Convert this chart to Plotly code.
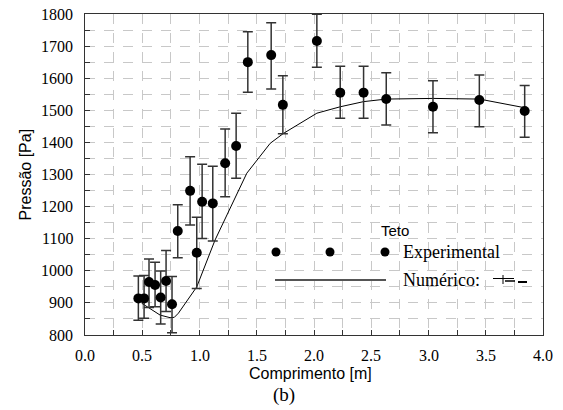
import plotly.graph_objects as go

# Experimental data (Teto)
x_exp = [0.466, 0.516, 0.559, 0.612, 0.661, 0.708, 0.760, 0.810, 0.918, 0.976, 1.023, 1.116,
         1.224, 1.320, 1.422, 1.626, 1.728, 2.025, 2.229, 2.433, 2.631, 3.039, 3.444, 3.840]
y_exp = [914, 914, 965, 956, 917, 968, 896, 1124, 1249, 1056, 1215, 1210,
         1335, 1389, 1650, 1672, 1517, 1716, 1555, 1555, 1535, 1511, 1532, 1498]
y_upper = [984, 985, 1037, 1027, 999, 1063, 982, 1206, 1355, 1167, 1332, 1326,
           1442, 1491, 1745, 1773, 1608, 1799, 1637, 1637, 1617, 1592, 1610, 1577]
y_lower = [846, 852, 886, 888, 834, 873, 807, 1041, 1143, 945, 1101, 1093,
           1231, 1288, 1556, 1566, 1427, 1634, 1475, 1475, 1454, 1430, 1449, 1416]

# Numerical curve
x_num = [0.495, 0.656, 0.743, 0.780, 0.816, 0.976, 1.136, 1.268, 1.413, 1.617, 1.733,
         2.025, 2.229, 2.433, 2.631, 3.039, 3.444, 3.840]
y_num = [899, 862, 854, 855, 868, 950, 1096, 1195, 1304, 1397, 1428,
         1491, 1511, 1527, 1535, 1537, 1535, 1508]

# Labelled ticks
x_label_vals = [0.0, 0.5, 1.0, 1.5, 2.0, 2.5, 3.0, 3.5, 4.0]
x_label_text = ["0.0", "0.5", "1.0", "1.5", "2.0", "2.5", "3.0", "3.5", "4.0"]
y_label_vals = [800, 900, 1000, 1100, 1200, 1300, 1400, 1500, 1600, 1700, 1800]
y_label_text = [str(v) for v in y_label_vals]

# Grid / tick positions (every 0.25 m and 50 Pa)
x_ticks = [i * 0.25 for i in range(17)]
y_ticks = [800 + 50 * i for i in range(21)]

err_plus = [u - y for u, y in zip(y_upper, y_exp)]
err_minus = [y - l for y, l in zip(y_exp, y_lower)]

fig = go.Figure()
fig.add_trace(go.Scatter(x=x_num, y=y_num, mode="lines",
                         line=dict(color="black", width=1), showlegend=False))
fig.add_trace(go.Scatter(x=x_exp, y=y_exp, mode="markers",
                         marker=dict(color="black", size=10),
                         error_y=dict(type="data", symmetric=False, array=err_plus,
                                      arrayminus=err_minus, color="#333333",
                                      thickness=1.5, width=5),
                         showlegend=False))

GRID = "#c8c8c8"
serif = "Liberation Serif"
sans = "Liberation Sans"

axis_common = dict(ticks="inside", ticklen=5, tickcolor="#333", showline=True, mirror=True,
                   linecolor="#333", linewidth=1, showgrid=True, gridcolor=GRID,
                   griddash="10px,9px", gridwidth=1.3, zeroline=False,
                   showticklabels=False)

fig.update_layout(
    xaxis=dict(range=[0, 4], tickmode="array", tickvals=x_ticks, **axis_common),
    yaxis=dict(range=[800, 1800], tickmode="array", tickvals=y_ticks, **axis_common),
)

# Legend (drawn manually)
def px(xp):
    return (xp - 85) / 458.0

def py(yp):
    return (335 - yp) / 321.0

shapes = []
for cx in [276, 330, 385]:
    shapes.append(dict(type="circle", xref="paper", yref="paper", xsizemode="pixel",
                       ysizemode="pixel", xanchor=px(cx), yanchor=py(252),
                       x0=-4.5, x1=4.5, y0=-4.5, y1=4.5,
                       fillcolor="black", line=dict(color="black", width=0)))
shapes.append(dict(type="line", xref="paper", yref="paper", x0=px(275), x1=px(386),
                   y0=py(280), y1=py(280), line=dict(color="#555", width=1.8)))
# small numerical glyph
shapes.append(dict(type="line", xref="paper", yref="paper", x0=px(493), x1=px(514),
                   y0=py(278.5), y1=py(278.5), line=dict(color="black", width=1)))
shapes.append(dict(type="line", xref="paper", yref="paper", x0=px(503), x1=px(503),
                   y0=py(275), y1=py(284), line=dict(color="black", width=1)))
shapes.append(dict(type="line", xref="paper", yref="paper", x0=px(505), x1=px(515),
                   y0=py(281), y1=py(281), line=dict(color="black", width=1.5)))
shapes.append(dict(type="line", xref="paper", yref="paper", x0=px(518), x1=px(527),
                   y0=py(282), y1=py(282), line=dict(color="black", width=2)))

annotations = []
# tick labels (serif)
for v, t in zip(x_label_vals, x_label_text):
    annotations.append(dict(text=t, xref="x", yref="paper", x=v, y=0, yshift=-20,
                            showarrow=False, xanchor="center", yanchor="middle",
                            font=dict(family=serif, size=16, color="black")))
for v, t in zip(y_label_vals, y_label_text):
    annotations.append(dict(text=t, xref="paper", yref="y", x=0, y=v, xshift=-10,
                            showarrow=False, xanchor="right", yanchor="middle",
                            font=dict(family=serif, size=16, color="black")))

annotations += [
    dict(text="Teto", xref="paper", yref="paper", x=px(395), y=py(230), showarrow=False,
         xanchor="center", yanchor="middle", font=dict(family=sans, size=15, color="black")),
    dict(text="Experimental", xref="paper", yref="paper", x=px(401), y=py(252),
         showarrow=False, xanchor="left", yanchor="middle",
         font=dict(family=serif, size=18, color="black")),
    dict(text="Numérico:", xref="paper", yref="paper", x=px(401), y=py(280),
         showarrow=False, xanchor="left", yanchor="middle",
         font=dict(family=serif, size=18, color="black")),
    dict(text="Comprimento [m]", xref="paper", yref="paper", x=px(310), y=0, yshift=-38,
         showarrow=False, xanchor="center", yanchor="middle",
         font=dict(family=sans, size=16, color="black")),
    dict(text="(b)", xref="paper", yref="paper", x=px(284), y=0, yshift=-60,
         showarrow=False, xanchor="center", yanchor="middle",
         font=dict(family=serif, size=19, color="black")),
    dict(text="Pressão [Pa]", xref="paper", yref="paper", x=0, xshift=-60, y=0.5,
         textangle=-90, showarrow=False, xanchor="center", yanchor="middle",
         font=dict(family=sans, size=16, color="black")),
]

fig.update_layout(width=563, height=410, margin=dict(l=85, r=20, t=14, b=75),
                  paper_bgcolor="white", plot_bgcolor="white",
                  shapes=shapes, annotations=annotations, showlegend=False)

fig.write_html("out.html")
